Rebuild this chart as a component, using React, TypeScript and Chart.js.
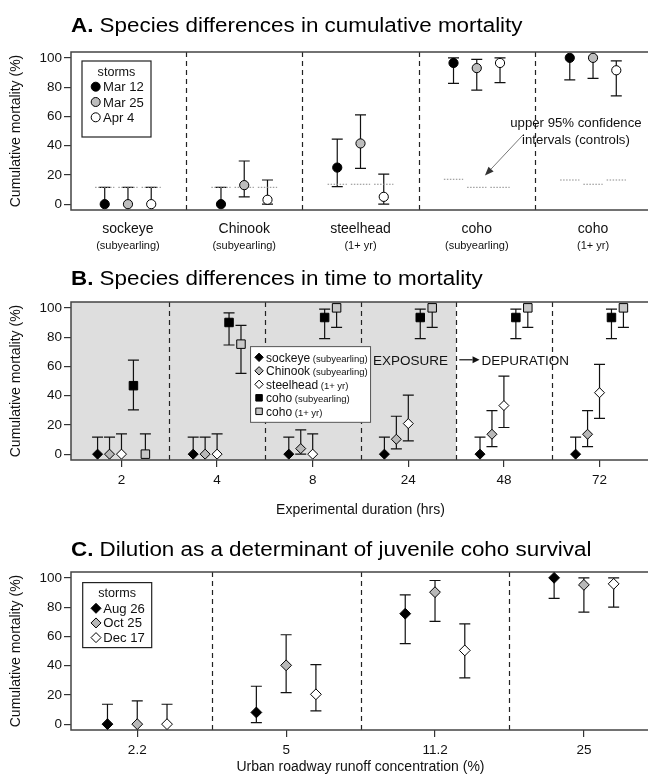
import React, { useEffect, useRef } from 'react';
import { Chart, registerables } from 'chart.js';

Chart.register(...registerables);

const FONT = '"Liberation Sans", Arial, Helvetica, sans-serif';

// ---------------- Panel A data ----------------
const speciesA = ['sockeye', 'Chinook', 'steelhead', 'coho', 'coho'];
const stageA = ['(subyearling)', '(subyearling)', '(1+ yr)', '(subyearling)', '(1+ yr)'];
const stormsA = ['Mar 12', 'Mar 25', 'Apr 4'];
const mortMar12 = [0, 0, 25, 96.5, 100];
const lowMar12 = [0, 0, 12, 82.5, 85];
const highMar12 = [11.5, 11.5, 44.5, 100, 100];
const mortMar25 = [0, 13, 41.5, 93, 100];
const lowMar25 = [0, 5, 24.5, 78, 86];
const highMar25 = [11.5, 29.5, 61, 99, 100];
const mortApr4 = [0, 3, 5, 96.5, 91.5];
const lowApr4 = [0, 0, 0, 83, 74];
const highApr4 = [11.5, 16.5, 20.5, 100, 98];
const ctrlMar12 = [11.5, 11.5, 13.6, 17, 16.5];
const ctrlMar25 = [11.5, 11.5, 13.6, 11.5, 13.6];
const ctrlApr4 = [11.5, 11.5, 13.6, 11.5, 16.5];

// ---------------- Panel B data ----------------
const durations = ['2', '4', '8', '24', '48', '72'];
const groupsB = ['sockeye', 'Chinook', 'steelhead', 'coho', 'coho'];
const stageB = ['(subyearling)', '(subyearling)', '(1+ yr)', '(subyearling)', '(1+ yr)'];
const sockeyeB = [0, 0, 0, 0, 0, 0];
const sockeyeLowB = [0, 0, 0, 0, 0, 0];
const sockeyeHighB = [11.6, 11.6, 11.6, 11.6, 11.6, 11.6];
const chinookB = [0, 0, 3.8, 10.2, 13.6, 13.6];
const chinookLowB = [0, 0, 0, 3.6, 5.2, 5.2];
const chinookHighB = [11.6, 11.6, 16.6, 25.9, 29.8, 29.8];
const steelheadB = [0, 0, 0, 20.9, 33.2, 42];
const steelheadLowB = [0, 0, 0, 9.1, 18.2, 24.5];
const steelheadHighB = [13.8, 13.8, 13.8, 40.4, 53.4, 61.4];
const cohoSubB = [46.8, 90, 93.4, 93.4, 93.4, 93.4];
const cohoSubLowB = [30.2, 74.6, 78.9, 78.9, 78.9, 78.9];
const cohoSubHighB = [64.3, 96.6, 99.1, 99.1, 99.1, 99.1];
const cohoYrB = [0, 75.2, 100, 100, 100, 100];
const cohoYrLowB = [0, 55.2, 86.6, 86.6, 86.6, 86.6];
const cohoYrHighB = [13.8, 88, 100, 100, 100, 100];

// ---------------- Panel C data ----------------
const concentrations = ['2.2', '5', '11.2', '25'];
const stormsC = ['Aug 26', 'Oct 25', 'Dec 17'];
const aug26 = [0, 8, 75.5, 100];
const aug26Low = [0, 1.1, 55, 86];
const aug26High = [13.6, 25.9, 88.4, 100];
const oct25 = [0, 40.2, 90.2, 95.2];
const oct25Low = [0, 21.6, 70.2, 76.6];
const oct25High = [15.9, 61.1, 98.2, 100];
const dec17 = [0, 20.4, 50.4, 95.9];
const dec17Low = [0, 9.1, 31.6, 80];
const dec17High = [13.6, 40.7, 68.6, 100];

const yTicks = [0, 20, 40, 60, 80, 100];

// ---------------- helpers ----------------
type Part = { text: string; size: number; weight?: string };

function drawRich(ctx: CanvasRenderingContext2D, parts: Part[], x: number, y: number, sx = 1, align = 'left', color = '#111') {
  ctx.save();
  const widths = parts.map((p) => {
    ctx.font = `${p.weight || 'normal'} ${p.size}px ${FONT}`;
    return ctx.measureText(p.text).width;
  });
  const total = widths.reduce((a, b) => a + b, 0) * sx;
  const x0 = align === 'center' ? x - total / 2 : align === 'right' ? x - total : x;
  ctx.translate(x0, y);
  ctx.scale(sx, 1);
  ctx.fillStyle = color;
  ctx.textAlign = 'left';
  ctx.textBaseline = 'alphabetic';
  let cx = 0;
  parts.forEach((p, i) => {
    ctx.font = `${p.weight || 'normal'} ${p.size}px ${FONT}`;
    ctx.fillText(p.text, cx, 0);
    cx += widths[i];
  });
  ctx.restore();
}

function drawMarker(ctx: CanvasRenderingContext2D, style: string, x: number, y: number, r: number, fill: string) {
  ctx.save();
  ctx.beginPath();
  if (style === 'circle') ctx.arc(x, y, r, 0, Math.PI * 2);
  else if (style === 'rectRot') {
    ctx.moveTo(x - r, y);
    ctx.lineTo(x, y - r);
    ctx.lineTo(x + r, y);
    ctx.lineTo(x, y + r);
    ctx.closePath();
  } else {
    const h = r * Math.SQRT1_2;
    ctx.rect(x - h, y - h, 2 * h, 2 * h);
  }
  ctx.fillStyle = fill;
  ctx.fill();
  ctx.strokeStyle = '#000';
  ctx.lineWidth = 1;
  ctx.stroke();
  ctx.restore();
}

function drawArrow(ctx: CanvasRenderingContext2D, x0: number, y0: number, x1: number, y1: number, color: string, headColor: string, len = 8, half = 3.2, lw = 1) {
  const ang = Math.atan2(y1 - y0, x1 - x0);
  const bx = x1 - Math.cos(ang) * len;
  const by = y1 - Math.sin(ang) * len;
  ctx.save();
  ctx.strokeStyle = color;
  ctx.lineWidth = lw;
  ctx.beginPath();
  ctx.moveTo(x0, y0);
  ctx.lineTo(bx, by);
  ctx.stroke();
  ctx.fillStyle = headColor;
  ctx.beginPath();
  ctx.moveTo(x1, y1);
  ctx.lineTo(bx + Math.sin(ang) * half, by - Math.cos(ang) * half);
  ctx.lineTo(bx - Math.sin(ang) * half, by + Math.cos(ang) * half);
  ctx.closePath();
  ctx.fill();
  ctx.restore();
}

const CAP = 5.5;

function drawErrorBars(chart: any) {
  const { ctx } = chart;
  const ys = chart.scales.y;
  ctx.save();
  ctx.strokeStyle = '#111';
  ctx.lineWidth = 1.2;
  chart.data.datasets.forEach((ds: any, di: number) => {
    if (!ds.errLow) return;
    const meta = chart.getDatasetMeta(di);
    meta.data.forEach((el: any, i: number) => {
      const v = ds.data[i].y;
      const lo = ds.errLow[i];
      const hi = ds.errHigh[i];
      const px = el.x;
      const yl = ys.getPixelForValue(lo);
      const yh = ys.getPixelForValue(hi);
      ctx.beginPath();
      ctx.moveTo(px, yl);
      ctx.lineTo(px, yh);
      if (hi !== v) {
        ctx.moveTo(px - CAP, yh);
        ctx.lineTo(px + CAP, yh);
      }
      if (lo !== v) {
        ctx.moveTo(px - CAP, yl);
        ctx.lineTo(px + CAP, yl);
      }
      ctx.stroke();
    });
  });
  ctx.restore();
}

function decorPlugin(o: { seps: number[]; shadeTo?: number; title: [string, string]; titleBaseline: number; extra?: (chart: any) => void }) {
  return {
    id: 'decor',
    beforeDatasetsDraw(chart: any) {
      const { ctx, chartArea: a } = chart;
      const x = chart.scales.x;
      ctx.save();
      if (o.shadeTo !== undefined) {
        ctx.fillStyle = '#dedede';
        ctx.fillRect(a.left, a.top, x.getPixelForValue(o.shadeTo) - a.left, a.bottom - a.top);
      }
      ctx.strokeStyle = '#222';
      ctx.lineWidth = 1.2;
      ctx.setLineDash([5, 4]);
      o.seps.forEach((v) => {
        const px = Math.round(x.getPixelForValue(v)) + 0.5;
        ctx.beginPath();
        ctx.moveTo(px, a.top);
        ctx.lineTo(px, a.bottom);
        ctx.stroke();
      });
      ctx.setLineDash([]);
      ctx.strokeStyle = '#444';
      ctx.lineWidth = 1.5;
      ctx.strokeRect(a.left, a.top, a.right - a.left, a.bottom - a.top);
      ctx.restore();
      drawErrorBars(chart);
    },
    afterDatasetsDraw(chart: any) {
      if (o.extra) o.extra(chart);
    },
    afterDraw(chart: any) {
      drawRich(
        chart.ctx,
        [
          { text: o.title[0], size: 20, weight: 'bold' },
          { text: o.title[1], size: 20 },
        ],
        chart.chartArea.left,
        o.titleBaseline,
        1.12,
        'left',
        '#000'
      );
    },
  };
}

function yScale() {
  return {
    type: 'linear',
    min: -4,
    max: 104,
    afterBuildTicks: (s: any) => {
      s.ticks = yTicks.map((v) => ({ value: v }));
    },
    afterFit: (s: any) => {
      s.width = 71;
    },
    ticks: { font: { family: FONT, size: 13.5 }, color: '#111', padding: 2 },
    grid: { drawOnChartArea: false, drawTicks: true, tickLength: 7, color: '#333', lineWidth: 1.2 },
    border: { display: false },
    title: {
      display: true,
      text: 'Cumulative mortality (%)',
      font: { family: FONT, size: 14 },
      color: '#111',
      padding: { top: 8, bottom: 0 },
    },
  };
}

function xCategoryScale(min: number, max: number, labels: string[], extra: any) {
  return {
    type: 'linear',
    min,
    max,
    afterBuildTicks: (s: any) => {
      s.ticks = labels.map((_, i) => ({ value: i + 1 }));
    },
    ...extra,
    ticks: {
      autoSkip: false,
      maxRotation: 0,
      color: '#111',
      callback: (v: number) => labels[Math.round(v) - 1],
      ...extra.ticks,
    },
  };
}

const pts = (vals: number[], off: number) => vals.map((v, i) => ({ x: i + 1 + off, y: v }));

function pointDs(label: string, data: any[], low: number[], high: number[], style: string, fill: string, r: number) {
  return {
    label,
    data,
    errLow: low,
    errHigh: high,
    pointStyle: style,
    pointRadius: r,
    pointBackgroundColor: fill,
    pointBorderColor: '#000',
    pointBorderWidth: 1,
    showLine: false,
  };
}

const baseOptions = {
  animation: false,
  responsive: false,
  events: [],
  plugins: { legend: { display: false }, tooltip: { enabled: false } },
};

// ---------------- Panel A config ----------------
function configA(): any {
  const offA = [-0.2, 0, 0.2];
  const ctrl: any[] = [];
  [ctrlMar12, ctrlMar25, ctrlApr4].forEach((arr, s) =>
    arr.forEach((c, i) => {
      const cx = i + 1 + offA[s];
      ctrl.push({ x: cx - 0.083, y: c }, { x: cx + 0.083, y: c }, { x: cx + 0.09, y: null });
    })
  );
  const fills = ['#000', '#bdbdbd', '#fff'];
  const datasets: any[] = [
    pointDs(stormsA[0], pts(mortMar12, offA[0]), lowMar12, highMar12, 'circle', fills[0], 4.6),
    pointDs(stormsA[1], pts(mortMar25, offA[1]), lowMar25, highMar25, 'circle', fills[1], 4.6),
    pointDs(stormsA[2], pts(mortApr4, offA[2]), lowApr4, highApr4, 'circle', fills[2], 4.6),
    {
      label: 'controls',
      data: ctrl,
      showLine: true,
      spanGaps: false,
      borderColor: '#8a8a8a',
      borderWidth: 1,
      borderDash: [1.5, 1.5],
      pointRadius: 0,
    },
  ];
  return {
    type: 'scatter',
    data: { datasets },
    options: {
      ...baseOptions,
      layout: { padding: { top: 52, right: 10, left: 0, bottom: 0 } },
      scales: {
        x: xCategoryScale(0.51, 5.49, speciesA, {
          weight: 0,
          afterFit: (s: any) => {
            s.height = 28;
          },
          grid: { display: false, drawTicks: false },
          border: { display: false },
          ticks: { font: { family: FONT, size: 14 }, padding: 11 },
        }),
        x2: xCategoryScale(0.51, 5.49, stageA, {
          axis: 'x',
          position: 'bottom',
          weight: 1,
          afterFit: (s: any) => {
            s.height = 24;
          },
          grid: { display: false, drawTicks: false },
          border: { display: false },
          ticks: { font: { family: FONT, size: 11 }, padding: 1.5 },
        }),
        y: yScale(),
      },
    },
    plugins: [
      decorPlugin({
        seps: [1.5, 2.5, 3.5, 4.5],
        title: ['A.', ' Species differences in cumulative mortality'],
        titleBaseline: 31.7,
        extra: (chart: any) => {
          const { ctx, chartArea: a } = chart;
          const xs = chart.scales.x;
          const ys = chart.scales.y;
          // legend
          const bx = a.left + 11, by = a.top + 9, bw = 69, bh = 76;
          ctx.save();
          ctx.fillStyle = '#fff';
          ctx.fillRect(bx, by, bw, bh);
          ctx.strokeStyle = '#222';
          ctx.lineWidth = 1.2;
          ctx.strokeRect(bx, by, bw, bh);
          ctx.restore();
          drawRich(ctx, [{ text: 'storms', size: 12 }], bx + bw / 2, by + 14.5, 1.05, 'center');
          stormsA.forEach((s, i) => {
            const cy = by + 25.7 + i * 15.3;
            const ds = chart.data.datasets[i];
            drawMarker(ctx, ds.pointStyle, bx + 13.7, cy, 4.5, ds.pointBackgroundColor);
            drawRich(ctx, [{ text: s, size: 12.5 }], bx + 21, cy + 4.5, 1.05);
          });
          // annotation
          const tx = xs.getPixelForValue(4.853);
          drawRich(ctx, [{ text: 'upper 95% confidence', size: 12 }], tx, ys.getPixelForValue(52.4), 1.1, 'center');
          drawRich(ctx, [{ text: 'intervals (controls)', size: 12 }], tx, ys.getPixelForValue(41.4), 1.1, 'center');
          drawArrow(
            ctx,
            xs.getPixelForValue(4.405),
            ys.getPixelForValue(47.9),
            xs.getPixelForValue(4.07),
            ys.getPixelForValue(19.5),
            '#777',
            '#333',
            9,
            3.5,
            1
          );
        },
      }),
    ],
  };
}

// ---------------- Panel B config ----------------
function configB(): any {
  const offB = [-0.25, -0.125, 0, 0.125, 0.25];
  const datasets: any[] = [
    pointDs(groupsB[0], pts(sockeyeB, offB[0]), sockeyeLowB, sockeyeHighB, 'rectRot', '#000', 5),
    pointDs(groupsB[1], pts(chinookB, offB[1]), chinookLowB, chinookHighB, 'rectRot', '#b8b8b8', 5),
    pointDs(groupsB[2], pts(steelheadB, offB[2]), steelheadLowB, steelheadHighB, 'rectRot', '#fff', 5),
    pointDs(groupsB[3], pts(cohoSubB, offB[3]), cohoSubLowB, cohoSubHighB, 'rect', '#000', 6),
    pointDs(groupsB[4], pts(cohoYrB, offB[4]), cohoYrLowB, cohoYrHighB, 'rect', '#c8c8c8', 6),
  ];
  return {
    type: 'scatter',
    data: { datasets },
    options: {
      ...baseOptions,
      layout: { padding: { top: 40, right: 10, left: 0, bottom: 0 } },
      scales: {
        x: xCategoryScale(0.472, 6.528, durations, {
          afterFit: (s: any) => {
            s.height = 64;
          },
          grid: { display: true, drawOnChartArea: false, drawTicks: true, tickLength: 7, color: '#333', lineWidth: 1.2 },
          border: { display: false },
          ticks: { font: { family: FONT, size: 13.5 }, padding: 5 },
          title: {
            display: true,
            text: 'Experimental duration (hrs)',
            font: { family: FONT, size: 14 },
            color: '#111',
            padding: { top: 0, bottom: 5.6 },
          },
        }),
        y: yScale(),
      },
    },
    plugins: [
      decorPlugin({
        seps: [1.5, 2.5, 3.5, 4.5, 5.5],
        shadeTo: 4.5,
        title: ['B.', ' Species differences in time to mortality'],
        titleBaseline: 23,
        extra: (chart: any) => {
          const { ctx } = chart;
          const xs = chart.scales.x;
          const ys = chart.scales.y;
          // legend
          const bx = xs.getPixelForValue(2.35), by = ys.getPixelForValue(73.5), bw = 120, bh = 75.7;
          ctx.save();
          ctx.fillStyle = '#fff';
          ctx.fillRect(bx, by, bw, bh);
          ctx.strokeStyle = '#555';
          ctx.lineWidth = 1;
          ctx.strokeRect(bx, by, bw, bh);
          ctx.restore();
          groupsB.forEach((g, i) => {
            const cy = by + 10.7 + i * 13.5;
            const ds = chart.data.datasets[i];
            const r = ds.pointStyle === 'rect' ? 4.6 : 4.2;
            drawMarker(ctx, ds.pointStyle, bx + 8.5, cy, r, ds.pointBackgroundColor);
            drawRich(
              ctx,
              [
                { text: g, size: 12 },
                { text: ' ' + stageB[i], size: 9.5 },
              ],
              bx + 15.5,
              cy + 4.3,
              1
            );
          });
          // exposure -> depuration
          const base = ys.getPixelForValue(61);
          drawRich(ctx, [{ text: 'EXPOSURE', size: 13.5 }], xs.getPixelForValue(4.415), base, 1, 'right');
          drawArrow(
            ctx,
            xs.getPixelForValue(4.533),
            ys.getPixelForValue(64.5),
            xs.getPixelForValue(4.745),
            ys.getPixelForValue(64.5),
            '#111',
            '#111',
            7,
            3.5,
            1.2
          );
          drawRich(ctx, [{ text: 'DEPURATION', size: 13.5 }], xs.getPixelForValue(4.765), base, 1, 'left');
        },
      }),
    ],
  };
}

// ---------------- Panel C config ----------------
function configC(): any {
  const offC = [-0.2, 0, 0.2];
  const datasets: any[] = [
    pointDs(stormsC[0], pts(aug26, offC[0]), aug26Low, aug26High, 'rectRot', '#000', 5.4),
    pointDs(stormsC[1], pts(oct25, offC[1]), oct25Low, oct25High, 'rectRot', '#b8b8b8', 5.4),
    pointDs(stormsC[2], pts(dec17, offC[2]), dec17Low, dec17High, 'rectRot', '#fff', 5.4),
  ];
  return {
    type: 'scatter',
    data: { datasets },
    options: {
      ...baseOptions,
      layout: { padding: { top: 48, right: 10, left: 0, bottom: 0 } },
      scales: {
        x: xCategoryScale(0.555, 4.444, concentrations, {
          afterFit: (s: any) => {
            s.height = 46;
          },
          grid: { display: true, drawOnChartArea: false, drawTicks: true, tickLength: 7, color: '#333', lineWidth: 1.2 },
          border: { display: false },
          ticks: { font: { family: FONT, size: 13.5 }, padding: 5.6 },
          title: {
            display: true,
            text: 'Urban roadway runoff concentration (%)',
            font: { family: FONT, size: 14 },
            color: '#111',
            padding: { top: 0, bottom: 0 },
          },
        }),
        y: yScale(),
      },
    },
    plugins: [
      decorPlugin({
        seps: [1.5, 2.5, 3.5],
        title: ['C.', ' Dilution as a determinant of juvenile coho survival'],
        titleBaseline: 32,
        extra: (chart: any) => {
          const { ctx, chartArea: a } = chart;
          const bx = a.left + 11.7, by = a.top + 10.6, bw = 69, bh = 65;
          ctx.save();
          ctx.fillStyle = '#fff';
          ctx.fillRect(bx, by, bw, bh);
          ctx.strokeStyle = '#222';
          ctx.lineWidth = 1.2;
          ctx.strokeRect(bx, by, bw, bh);
          ctx.restore();
          drawRich(ctx, [{ text: 'storms', size: 12 }], bx + bw / 2, by + 14, 1.05, 'center');
          stormsC.forEach((s, i) => {
            const cy = by + 25.7 + i * 14.65;
            const ds = chart.data.datasets[i];
            drawMarker(ctx, ds.pointStyle, bx + 13.3, cy, 5, ds.pointBackgroundColor);
            drawRich(ctx, [{ text: s, size: 12.5 }], bx + 20.6, cy + 4.5, 1.05);
          });
        },
      }),
    ],
  };
}

function Panel({ make, top, height }: { make: () => any; top: number; height: number }) {
  const ref = useRef<HTMLCanvasElement | null>(null);
  useEffect(() => {
    if (!ref.current) return;
    const chart = new Chart(ref.current, make());
    return () => chart.destroy();
  }, [make]);
  return (
    <canvas
      ref={ref}
      width={660}
      height={height}
      style={{ position: 'absolute', left: 0, top, width: 660, height, display: 'block' }}
    />
  );
}

export default function App() {
  return (
    <div
      style={{
        position: 'absolute',
        left: 0,
        top: 0,
        width: 648,
        height: 776,
        overflow: 'hidden',
        background: '#fff',
      }}
    >
      <Panel make={configA} top={0} height={262} />
      <Panel make={configB} top={262} height={262} />
      <Panel make={configC} top={524} height={252} />
    </div>
  );
}
